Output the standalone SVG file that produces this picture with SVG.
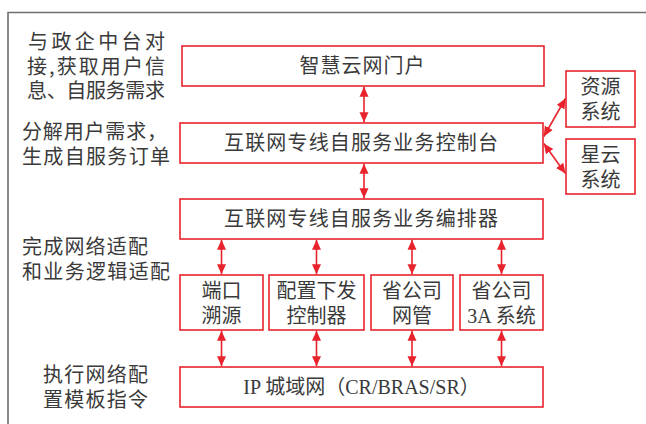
<svg xmlns="http://www.w3.org/2000/svg" width="646" height="424" viewBox="0 0 646 424">
<style>
.frame{fill:none;stroke:#6e6e6e;stroke-width:1.6}
.box{fill:#fff;stroke:#e8232c;stroke-width:1.6}
.t{font-family:"Liberation Serif","Noto Sans CJK SC",serif;font-size:20px;fill:#3a3a3a;text-anchor:middle}
.l{font-family:"Noto Sans CJK SC",sans-serif;font-size:20px;fill:#3a3a3a}
.c{stroke:#e8232c;stroke-width:1.6;fill:none;marker-start:url(#ah);marker-end:url(#ah)}
</style>
<defs>
<marker id="ah" viewBox="0 0 10 10" refX="10" refY="5" markerWidth="10" markerHeight="10" markerUnits="userSpaceOnUse" orient="auto-start-reverse">
<path d="M0,0.5 L10,5 L0,9.5 Z" fill="#e8232c"/>
</marker>
</defs>
<rect width="646" height="424" fill="#fff"/>
<path class="frame" d="M8,430 V12.5 H650"/>

<g id="left-texts">
<text class="l" x="28" y="49" textLength="137" lengthAdjust="spacing">与政企中台对</text>
<text class="l" x="27" y="74" textLength="138" lengthAdjust="spacing">接,获取用户信</text>
<text class="l" x="27" y="98" textLength="138" lengthAdjust="spacing">息、自服务需求</text>
<text class="l" x="22" y="139" textLength="145" lengthAdjust="spacing">分解用户需求，</text>
<text class="l" x="22" y="164" textLength="148" lengthAdjust="spacing">生成自服务订单</text>
<text class="l" x="22" y="254" textLength="126" lengthAdjust="spacing">完成网络适配</text>
<text class="l" x="22" y="279" textLength="148" lengthAdjust="spacing">和业务逻辑适配</text>
<text class="l" x="43" y="382" textLength="105" lengthAdjust="spacing">执行网络配</text>
<text class="l" x="43" y="407" textLength="105" lengthAdjust="spacing">置模板指令</text>
</g>

<g id="portal">
<rect class="box" x="182" y="46" width="362" height="40"/>
<text class="t" x="362" y="73" textLength="125" lengthAdjust="spacing">智慧云网门户</text>
</g>
<g id="console">
<rect class="box" x="180" y="123" width="363" height="40"/>
<text class="t" x="361" y="150" textLength="274" lengthAdjust="spacing">互联网专线自服务业务控制台</text>
</g>
<g id="orchestrator">
<rect class="box" x="180" y="199" width="363" height="40"/>
<text class="t" x="361" y="226" textLength="274" lengthAdjust="spacing">互联网专线自服务业务编排器</text>
</g>
<g id="port-trace">
<rect class="box" x="180" y="275" width="83" height="55"/>
<text class="t" x="221.5" y="297.5">端口</text>
<text class="t" x="221.5" y="322.5">溯源</text>
</g>
<g id="config-controller">
<rect class="box" x="269" y="275" width="95" height="55"/>
<text class="t" x="316.5" y="297.5">配置下发</text>
<text class="t" x="316.5" y="322.5">控制器</text>
</g>
<g id="prov-nms">
<rect class="box" x="371" y="275" width="82" height="55"/>
<text class="t" x="412" y="297.5">省公司</text>
<text class="t" x="412" y="322.5">网管</text>
</g>
<g id="prov-3a">
<rect class="box" x="460" y="275" width="83" height="55"/>
<text class="t" x="501.5" y="297.5">省公司</text>
<text class="t" x="501.5" y="322.5">3A 系统</text>
</g>
<g id="ip-metro">
<rect class="box" x="180" y="367" width="363" height="40"/>
<text class="t" x="361.5" y="394">IP 城域网（CR/BRAS/SR）</text>
</g>
<g id="resource-sys">
<rect class="box" x="566" y="71" width="69" height="56"/>
<text class="t" x="600.5" y="94">资源</text>
<text class="t" x="600.5" y="119">系统</text>
</g>
<g id="nebula-sys">
<rect class="box" x="566" y="139" width="69" height="55"/>
<text class="t" x="600.5" y="162">星云</text>
<text class="t" x="600.5" y="187">系统</text>
</g>

<g id="connectors">
<line class="c" x1="364" y1="86.8" x2="364" y2="122.2"/>
<line class="c" x1="364" y1="163.8" x2="364" y2="198.2"/>
<line class="c" x1="221.5" y1="239.8" x2="221.5" y2="274.2"/>
<line class="c" x1="316.5" y1="239.8" x2="316.5" y2="274.2"/>
<line class="c" x1="412" y1="239.8" x2="412" y2="274.2"/>
<line class="c" x1="501.5" y1="239.8" x2="501.5" y2="274.2"/>
<line class="c" x1="221.5" y1="330.8" x2="221.5" y2="366.2"/>
<line class="c" x1="316.5" y1="330.8" x2="316.5" y2="366.2"/>
<line class="c" x1="412" y1="330.8" x2="412" y2="366.2"/>
<line class="c" x1="501.5" y1="330.8" x2="501.5" y2="366.2"/>
<line class="c" x1="543.8" y1="136.5" x2="565.5" y2="98.5"/>
<line class="c" x1="543.8" y1="143.5" x2="565.5" y2="173.5"/>
</g>
</svg>
